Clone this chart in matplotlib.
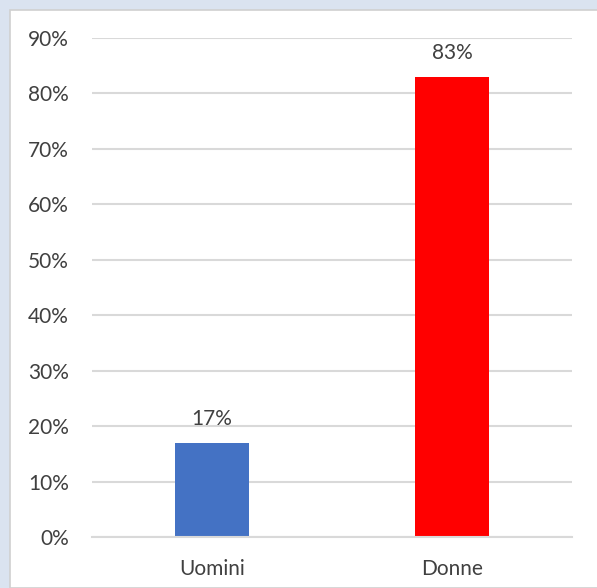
import matplotlib
matplotlib.use("Agg")
import matplotlib.pyplot as plt
from matplotlib.patches import Rectangle

categories = ["Uomini", "Donne"]
values = [0.17, 0.83]
colors = ["#4472C4", "#FF0000"]
yticks = [0, 0.1, 0.2, 0.3, 0.4, 0.5, 0.6, 0.7, 0.8, 0.9]
ytick_labels = ["0%", "10%", "20%", "30%", "40%", "50%", "60%", "70%", "80%", "90%"]
value_labels = ["17%", "83%"]

plt.rcParams['font.family'] = ['Lato', 'DejaVu Sans']
W, H = 597, 588
fig = plt.figure(figsize=(W/100, H/100), dpi=100)
fig.patch.set_facecolor("#DAE3F0")
fig.patches.append(Rectangle((9.5/W, 0), 1, 1 - 9.5/H, transform=fig.transFigure,
                             facecolor="white", edgecolor="#D0D0D0", linewidth=1.2, zorder=-5))

ax = fig.add_axes([92/W, 1 - 537/H, 480/W, (537 - 38)/H])
ax.set_zorder(1)
ax.set_facecolor("none")
x = range(len(categories))
ax.bar(x, values, width=0.31, color=colors, zorder=2)
ax.set_xlim(-0.5, 1.5)
ax.set_ylim(0, 0.9)
ax.set_yticks(yticks)
ax.set_yticklabels(ytick_labels)
ax.set_xticks(list(x))
ax.set_xticklabels(categories)
ax.yaxis.grid(True, color="#D9D9D9", linewidth=1.5, zorder=0)
ax.set_axisbelow(True)
for s in ["top", "right", "left"]:
    ax.spines[s].set_visible(False)
ax.spines["bottom"].set_color("#D9D9D9")
ax.spines["bottom"].set_linewidth(1.5)
ax.tick_params(axis="both", length=0, labelsize=15, colors="#404040")
ax.tick_params(axis="y", pad=16.5)
ax.tick_params(axis="x", pad=15.5)
for xi, v, lab in zip(x, values, value_labels):
    ax.annotate(lab, (xi, v), xytext=(0, 10), textcoords="offset points",
                ha="center", va="bottom", fontsize=15, color="#404040")

fig.savefig("out.png", dpi=100)
